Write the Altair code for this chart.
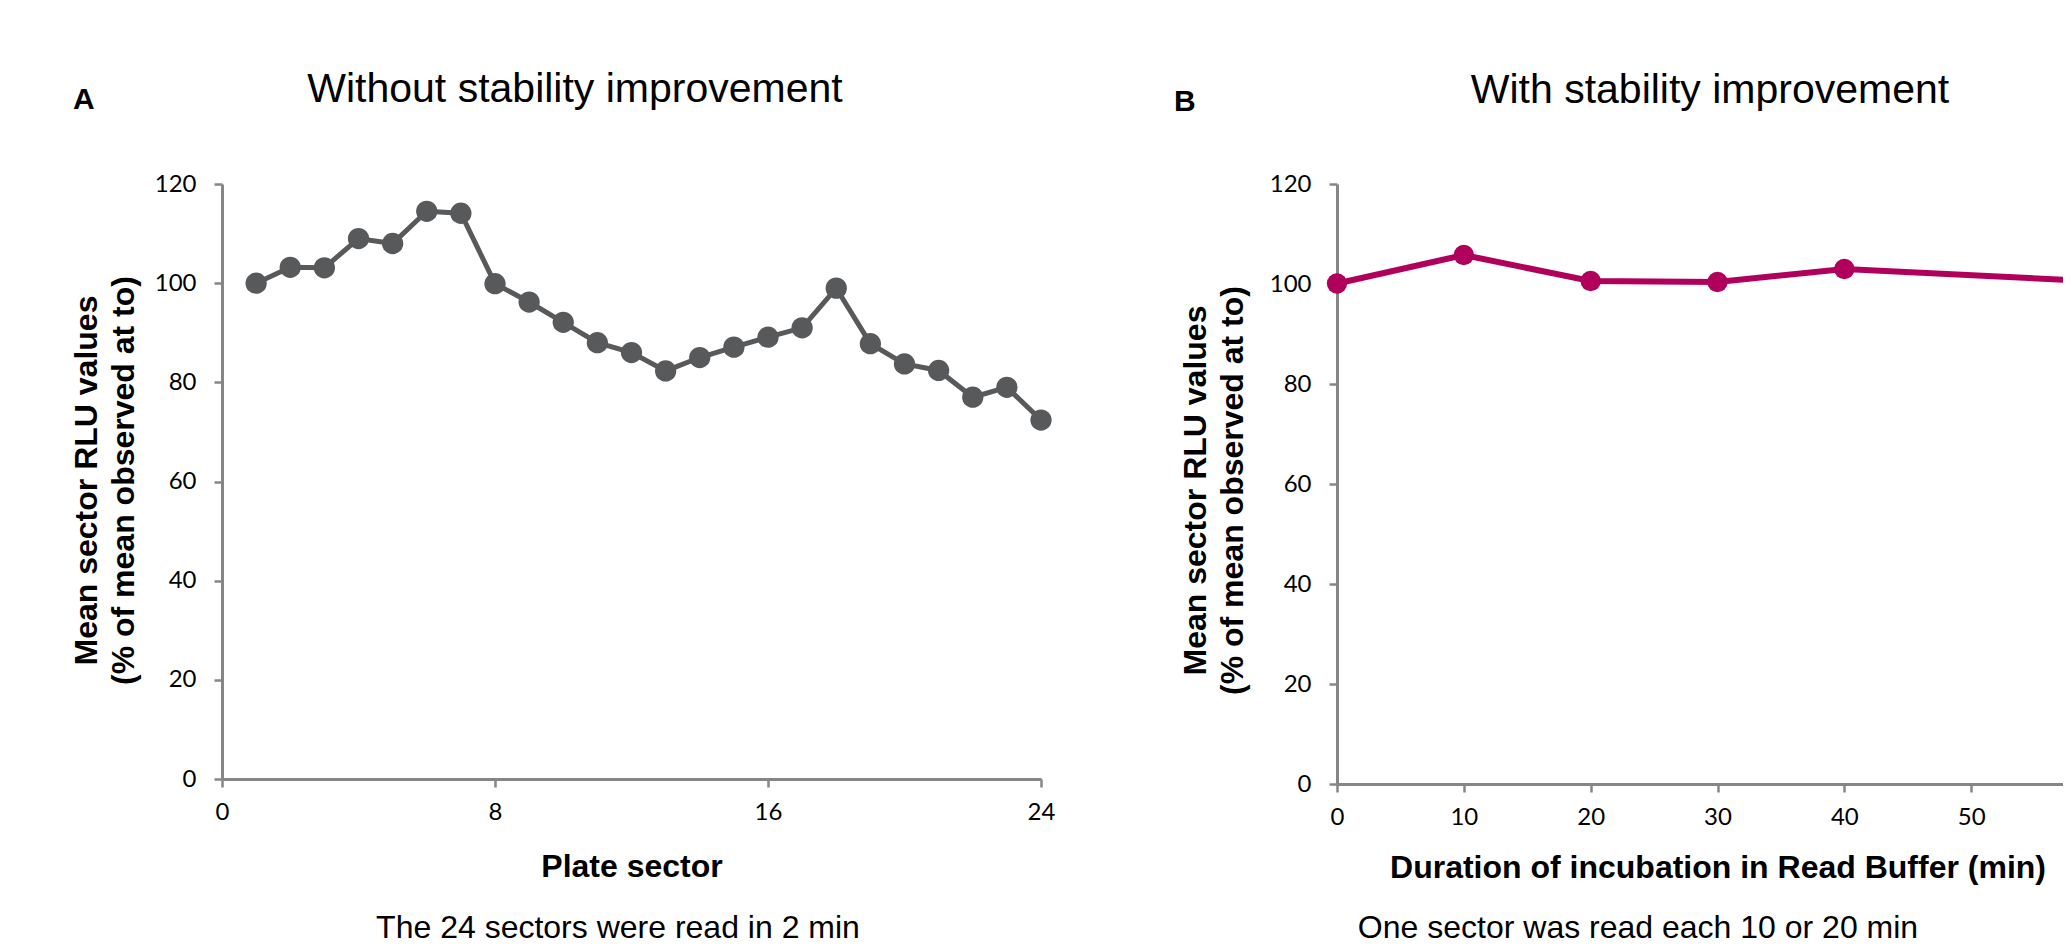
import altair as alt
import pandas as pd

# ---- data ----
sectors = list(range(1, 25))
rlu_a = [100.0, 103.2, 103.1, 109.0, 108.0, 114.5, 114.1, 99.9, 96.2, 92.1,
         88.0, 86.0, 82.3, 85.0, 87.1, 89.1, 91.0, 99.0, 87.8, 83.7,
         82.4, 77.0, 79.0, 72.4]
minutes = [0, 10, 20, 30, 40, 60]
rlu_b = [100.1, 105.8, 100.6, 100.4, 103.0, 100.5]

x_ticks_a = [0, 8, 16, 24]
x_ticks_b = [0, 10, 20, 30, 40, 50]
y_ticks = [0, 20, 40, 60, 80, 100, 120]

y_title = ["Mean sector RLU values", "(% of mean observed at to)"]

df_a = pd.DataFrame({"sector": sectors, "rlu": rlu_a})
df_b = pd.DataFrame({"minutes": minutes, "rlu": rlu_b})

GRAY = "#58595B"
MAGENTA = "#B0005C"
AXIS = "#868686"
TICK_FONT = "Lato"
TEXT_FONT = "Liberation Sans"

common_axis = dict(
    grid=False, domainColor=AXIS, domainWidth=3, tickColor=AXIS, tickWidth=2.5,
    tickSize=8, labelFont=TICK_FONT, labelFontSize=24, labelColor="black",
    titleFont=TEXT_FONT, titleFontSize=32, titleFontWeight="bold", titleColor="black",
    labelFlush=False, labelOverlap=False,
)

# ---- panel A ----
xa = alt.X("sector:Q",
           scale=alt.Scale(domain=[0, 24], range=[0, 819], nice=False, zero=False),
           axis=alt.Axis(values=x_ticks_a, orient="bottom", offset=-5, title="Plate sector",
                         labelPadding=13, titleY=97, titleBaseline="alphabetic",
                         **common_axis))
ya = alt.Y("rlu:Q",
           scale=alt.Scale(domain=[0, 120], range=[595, 0], nice=False, zero=False),
           axis=alt.Axis(values=y_ticks, orient="left", title=y_title, labelPadding=18,
                         titleX=-136, titleY=296, titleAngle=270, titleBaseline="middle",
                         titleAlign="center", titleLineHeight=37, **common_axis))
base_a = alt.Chart(df_a).encode(x=xa, y=ya)
panel_a = alt.layer(
    base_a.mark_line(color=GRAY, strokeWidth=5),
    base_a.mark_circle(color=GRAY, size=452, opacity=1),
)

# ---- panel B ----
xb = alt.X("minutes:Q",
           scale=alt.Scale(domain=[0, 60], range=[1115, 1876], nice=False, zero=False),
           axis=alt.Axis(values=x_ticks_b, orient="bottom", offset=0,
                         title="Duration of incubation in Read Buffer (min)",
                         labelPadding=13, titleY=93, titleBaseline="alphabetic",
                         **common_axis))
yb = alt.Y("rlu:Q",
           scale=alt.Scale(domain=[0, 120], range=[600, 0], nice=False, zero=False),
           axis=alt.Axis(values=y_ticks, orient="left", offset=-1115, title=y_title,
                         labelPadding=18, titleX=-142, titleY=306, titleAngle=270,
                         titleBaseline="middle", titleAlign="center", titleLineHeight=37,
                         **common_axis))
base_b = alt.Chart(df_b).encode(x=xb, y=yb)
panel_b = alt.layer(
    base_b.mark_line(color=MAGENTA, strokeWidth=6, clip=True),
    base_b.mark_circle(color=MAGENTA, size=415, opacity=1, clip=True),
)

# ---- annotation texts ----
one = pd.DataFrame({"k": [0]})


def label(text, x, y, size, weight="normal", align="center"):
    return alt.Chart(one).mark_text(
        text=text, font=TEXT_FONT, fontSize=size, fontWeight=weight, align=align,
        baseline="alphabetic", color="black",
    ).encode(x=alt.value(x), y=alt.value(y))


texts = [
    label("A", -149, -75, 30, "bold", "left"),
    label("Without stability improvement", 353, -82, 41),
    label("B", 952, -73, 30, "bold", "left"),
    label("With stability improvement", 1488, -81, 41),
    label("The 24 sectors were read in 2 min", 396, 754, 32),
    label("One sector was read each 10 or 20 min", 1416, 754, 32),
]

chart = alt.layer(panel_a, panel_b, *texts).resolve_scale(
    x="independent", y="independent"
).properties(
    width=1841, height=600,
    padding={"left": 214, "top": 176, "right": 0, "bottom": 162},
    autosize=alt.AutoSizeParams(type="none"),
    background="white",
).configure_view(stroke=None)

chart.save("out.html", embed_options={"renderer": "svg", "actions": False})
